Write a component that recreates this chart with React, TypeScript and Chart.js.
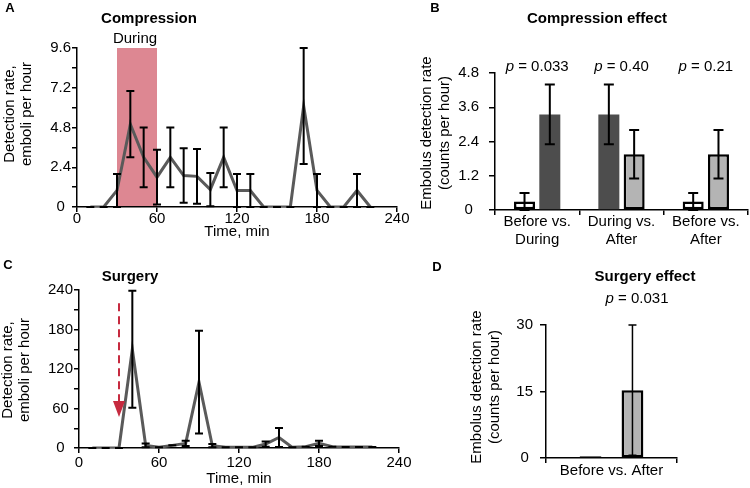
import React, { useEffect, useRef } from "react";
import { Chart, registerables } from "chart.js";

Chart.register(...registerables);

const FONT = "'Liberation Sans', Arial, Helvetica, sans-serif";
const INK = "#000000";
const LINE_GREY = "#5a5a5a";

// ---------- Panel A / C : time courses ----------
const TIME_MIN = [10, 20, 30, 40, 50, 60, 70, 80, 90, 100, 110, 120, 130, 140, 150, 160, 170, 180, 190, 200, 210, 220];
const TIME_TICKS = [0, 60, 120, 180, 240];

const A_MEAN = [0, 0, 1.0, 5.0, 3.0, 1.8, 3.0, 1.9, 1.85, 1.05, 3.0, 1.0, 1.0, 0, 0, 0, 6.1, 1.0, 0, 0, 1.0, 0];
const A_ERR = [0, 0, 1.0, 2.0, 1.8, 1.65, 1.8, 1.65, 1.65, 1.0, 1.8, 1.0, 1.0, 0, 0, 0, 3.5, 1.0, 0, 0, 1.0, 0];
const A_Y_TICKS = [0, 2.4, 4.8, 7.2, 9.6];
const A_DURING = [30, 60];

const C_MEAN = [0, 0, 0, 150, 4, 1, 4, 7, 100, 3.5, 1, 1, 1, 6, 16, 1, 2, 7, 2, 1.5, 1.5, 1.5];
const C_ERR = [0, 0, 0, 89, 3, 0, 0, 4, 78, 2.5, 0, 0, 0, 4, 14.5, 0, 0, 4, 0, 0, 0, 0];
const C_Y_TICKS = [0, 60, 120, 180, 240];
const C_ARROW_TIME = 30;
const C_ARROW_FROM = 220;
const C_ARROW_TO = 47;

// ---------- Panel B : compression effect ----------
const B_CATS = [["Before vs.", "During"], ["During vs.", "After"], ["Before vs.", "After"]];
const B_P = ["0.033", "0.40", "0.21"];
const B_LEFT = [0.3, 3.35, 0.3];
const B_LEFT_ERR = [0.3, 1.05, 0.3];
const B_LEFT_KIND = ["before", "during", "before"];
const B_RIGHT = [3.35, 1.95, 1.95];
const B_RIGHT_ERR = [1.05, 0.85, 0.85];
const B_RIGHT_KIND = ["during", "after", "after"];
const B_Y_TICKS = [0, 1.2, 2.4, 3.6, 4.8];

// ---------- Panel D : surgery effect ----------
const D_CATS = ["Before vs. After"];
const D_P = "0.031";
const D_BEFORE = [0.4];
const D_AFTER = [15.3];
const D_AFTER_ERR = [14.7];
const D_Y_TICKS = [0, 15, 30];

const KIND_FILL: Record<string, string> = { before: "#ffffff", during: "#4d4d4d", after: "#b4b4b4" };
const KIND_BORDER: Record<string, number> = { before: 2.5, during: 0, after: 2.5 };

type Part = { t: string; italic?: boolean; bold?: boolean };
type TextItem = {
  parts: Part[];
  x: number | ((c: any) => number);
  y: number;
  size: number;
  rotate?: boolean;
};

function textPlugin(items: TextItem[]) {
  return {
    id: "panelTexts",
    afterDraw(chart: any) {
      const ctx = chart.ctx;
      ctx.save();
      ctx.fillStyle = INK;
      ctx.textBaseline = "middle";
      ctx.textAlign = "left";
      for (const it of items) {
        const x = typeof it.x === "function" ? it.x(chart) : it.x;
        const fontOf = (p: Part) => `${p.italic ? "italic " : ""}${p.bold ? "bold " : ""}${it.size}px ${FONT}`;
        let total = 0;
        for (const p of it.parts) {
          ctx.font = fontOf(p);
          total += ctx.measureText(p.t).width;
        }
        ctx.save();
        ctx.translate(x, it.y);
        if (it.rotate) ctx.rotate(-Math.PI / 2);
        let cx = -total / 2;
        for (const p of it.parts) {
          ctx.font = fontOf(p);
          ctx.fillText(p.t, cx, 0);
          cx += ctx.measureText(p.t).width;
        }
        ctx.restore();
      }
      ctx.restore();
    },
  };
}

function errorBarPlugin(id: string, datasetIndex: number, means: number[], errs: number[], capHalf: number, width: number) {
  return {
    id,
    afterDatasetsDraw(chart: any) {
      const meta = chart.getDatasetMeta(datasetIndex);
      const ys = chart.scales.y;
      const ctx = chart.ctx;
      ctx.save();
      ctx.strokeStyle = "#000";
      ctx.lineWidth = width;
      meta.data.forEach((el: any, i: number) => {
        const e = errs[i];
        if (e == null) return;
        const x = el.x;
        const top = ys.getPixelForValue(means[i] + e);
        const bot = ys.getPixelForValue(Math.max(0, means[i] - e));
        ctx.beginPath();
        if (e > 0) {
          ctx.moveTo(x, top);
          ctx.lineTo(x, bot);
        }
        ctx.moveTo(x - capHalf, top);
        ctx.lineTo(x + capHalf, top);
        ctx.moveTo(x - capHalf, bot);
        ctx.lineTo(x + capHalf, bot);
        ctx.stroke();
      });
      ctx.restore();
    },
  };
}

const bandPlugin = {
  id: "duringBand",
  beforeDatasetsDraw(chart: any) {
    const { x, y } = chart.scales;
    const ctx = chart.ctx;
    const l = x.getPixelForValue(A_DURING[0]);
    const r = x.getPixelForValue(A_DURING[1]);
    const t = y.getPixelForValue(y.max);
    const b = y.getPixelForValue(0) - 1;
    ctx.save();
    ctx.fillStyle = "#dd8792";
    ctx.fillRect(l, t, r - l, b - t);
    ctx.restore();
  },
};

const arrowPlugin = {
  id: "surgeryArrow",
  afterDatasetsDraw(chart: any) {
    const { x, y } = chart.scales;
    const ctx = chart.ctx;
    const px = x.getPixelForValue(C_ARROW_TIME);
    const y0 = y.getPixelForValue(C_ARROW_FROM);
    const y1 = y.getPixelForValue(C_ARROW_TO);
    const head = 16;
    const hw = 6;
    ctx.save();
    ctx.strokeStyle = "#c62a3f";
    ctx.fillStyle = "#c62a3f";
    ctx.lineWidth = 2;
    ctx.setLineDash([8, 5]);
    ctx.beginPath();
    ctx.moveTo(px, y0);
    ctx.lineTo(px, y1 - head);
    ctx.stroke();
    ctx.setLineDash([]);
    ctx.beginPath();
    ctx.moveTo(px - hw, y1 - head);
    ctx.lineTo(px + hw, y1 - head);
    ctx.lineTo(px, y1);
    ctx.closePath();
    ctx.fill();
    ctx.restore();
  },
};

const axisGrid = { drawOnChartArea: false, drawTicks: true, tickLength: 5, color: "#000", lineWidth: 1.5 };
const axisBorder = { display: true, color: "#000", width: 1.5 };
const tickFont = { family: FONT, size: 15, lineHeight: 1.15 };

function withMinor(major: number[]) {
  const out: { value: number }[] = [];
  major.forEach((v, i) => {
    out.push({ value: v });
    if (i < major.length - 1) out.push({ value: (v + major[i + 1]) / 2 });
  });
  return out;
}

function baseOptions(padding: any) {
  return {
    responsive: false,
    animation: false as const,
    devicePixelRatio: 1,
    layout: { padding },
    plugins: { legend: { display: false }, tooltip: { enabled: false }, title: { display: false } },
  };
}

function timeChart(
  canvas: HTMLCanvasElement,
  means: number[],
  errs: number[],
  yTicks: number[],
  fmt: (v: number) => string,
  geom: { top: number; right: number; yWidth: number; xHeight: number; tickPad: number; titlePad: number; yTickPad: number },
  extra: any[]
) {
  return new Chart(canvas, {
    type: "line",
    data: {
      datasets: [
        {
          data: TIME_MIN.map((t, i) => ({ x: t, y: means[i] })),
          borderColor: LINE_GREY,
          borderWidth: 3,
          pointRadius: 0,
          tension: 0,
          fill: false,
        },
      ],
    },
    options: {
      ...baseOptions({ left: 0, top: geom.top, right: geom.right, bottom: 0 }),
      scales: {
        x: {
          type: "linear",
          min: TIME_TICKS[0],
          max: TIME_TICKS[TIME_TICKS.length - 1],
          afterBuildTicks: (s: any) => {
            s.ticks = TIME_TICKS.map((v) => ({ value: v }));
          },
          ticks: { font: tickFont, color: INK, padding: geom.tickPad, maxRotation: 0, autoSkip: false, callback: (v: any) => String(v) },
          grid: axisGrid,
          border: axisBorder,
          title: {
            display: true,
            text: "Time, min",
            font: { family: FONT, size: 15, lineHeight: 1.15 },
            color: INK,
            padding: { top: 0, bottom: geom.titlePad },
          },
          afterFit: (s: any) => {
            s.height = geom.xHeight;
            s.paddingLeft = 0;
            s.paddingRight = 0;
          },
        },
        y: {
          type: "linear",
          min: yTicks[0],
          max: yTicks[yTicks.length - 1],
          afterBuildTicks: (s: any) => {
            s.ticks = withMinor(yTicks);
          },
          ticks: {
            font: tickFont,
            color: INK,
            padding: geom.yTickPad,
            autoSkip: false,
            crossAlign: "center",
            callback: (v: any) => (yTicks.includes(v) ? fmt(v) : ""),
          },
          grid: axisGrid,
          border: axisBorder,
          afterFit: (s: any) => {
            s.width = geom.yWidth;
          },
        },
      },
    } as any,
    plugins: extra,
  });
}

function makeA(canvas: HTMLCanvasElement) {
  return timeChart(
    canvas,
    A_MEAN,
    A_ERR,
    A_Y_TICKS,
    (v) => (v === 0 ? "0" : v.toFixed(1)),
    { top: 48, right: 18, yWidth: 77, xHeight: 33, tickPad: -2, titlePad: 0, yTickPad: 1 },
    [
      bandPlugin,
      errorBarPlugin("ebA", 0, A_MEAN, A_ERR, 4, 2),
      textPlugin([
        { parts: [{ t: "A", bold: true }], x: 10, y: 8, size: 13 },
        { parts: [{ t: "Compression", bold: true }], x: 149, y: 19, size: 15 },
        { parts: [{ t: "During" }], x: 135, y: 39, size: 15 },
        { parts: [{ t: "Detection rate," }], x: 10, y: 114, size: 15, rotate: true },
        { parts: [{ t: "emboli per hour" }], x: 27, y: 114, size: 15, rotate: true },
      ]),
    ]
  );
}

function makeC(canvas: HTMLCanvasElement) {
  return timeChart(
    canvas,
    C_MEAN,
    C_ERR,
    C_Y_TICKS,
    (v) => String(v),
    { top: 50, right: 16, yWidth: 79, xHeight: 40, tickPad: 1, titlePad: 1, yTickPad: 1 },
    [
      errorBarPlugin("ebC", 0, C_MEAN, C_ERR, 4, 2),
      arrowPlugin,
      textPlugin([
        { parts: [{ t: "C", bold: true }], x: 8, y: 25, size: 13 },
        { parts: [{ t: "Surgery", bold: true }], x: 130, y: 37, size: 15 },
        { parts: [{ t: "Detection rate," }], x: 8, y: 130, size: 15, rotate: true },
        { parts: [{ t: "emboli per hour" }], x: 25, y: 130, size: 15, rotate: true },
      ]),
    ]
  );
}

function makeB(canvas: HTMLCanvasElement) {
  return new Chart(canvas, {
    type: "bar",
    data: {
      labels: B_CATS as any,
      datasets: [
        {
          data: B_LEFT,
          backgroundColor: B_LEFT_KIND.map((k) => KIND_FILL[k]),
          borderColor: "#000",
          borderWidth: B_LEFT_KIND.map((k) => KIND_BORDER[k]),
          borderSkipped: false,
          categoryPercentage: 0.6,
          barPercentage: 0.83,
        },
        {
          data: B_RIGHT,
          backgroundColor: B_RIGHT_KIND.map((k) => KIND_FILL[k]),
          borderColor: "#000",
          borderWidth: B_RIGHT_KIND.map((k) => KIND_BORDER[k]),
          borderSkipped: false,
          categoryPercentage: 0.6,
          barPercentage: 0.83,
        },
      ],
    },
    options: {
      ...baseOptions({ left: 0, top: 73, right: 2, bottom: 0 }),
      scales: {
        x: {
          grid: { ...axisGrid, offset: true },
          border: axisBorder,
          ticks: { font: { family: FONT, size: 15, lineHeight: 1.25 }, color: INK, padding: -3, maxRotation: 0, autoSkip: false },
          afterFit: (s: any) => {
            s.height = 45;
            s.paddingLeft = 0;
            s.paddingRight = 0;
          },
        },
        y: {
          min: B_Y_TICKS[0],
          max: B_Y_TICKS[B_Y_TICKS.length - 1],
          afterBuildTicks: (s: any) => {
            s.ticks = B_Y_TICKS.map((v) => ({ value: v }));
          },
          ticks: {
            font: tickFont,
            color: INK,
            padding: 10,
            crossAlign: "center",
            autoSkip: false,
            callback: (v: any) => (v === 0 ? "0" : Number(v).toFixed(1)),
          },
          grid: { ...axisGrid, tickLength: 6 },
          border: axisBorder,
          afterFit: (s: any) => {
            s.width = 95;
          },
        },
      },
    } as any,
    plugins: [
      errorBarPlugin("ebB0", 0, B_LEFT, B_LEFT_ERR, 5, 2),
      errorBarPlugin("ebB1", 1, B_RIGHT, B_RIGHT_ERR, 5, 2),
      textPlugin([
        { parts: [{ t: "B", bold: true }], x: 35, y: 8, size: 13 },
        { parts: [{ t: "Compression effect", bold: true }], x: 197, y: 19, size: 15 },
        ...B_P.map((p, i) => ({
          parts: [{ t: "p", italic: true }, { t: " = " + p }],
          x: (c: any) => c.scales.x.getPixelForValue(i),
          y: 67,
          size: 15,
        })),
        { parts: [{ t: "Embolus detection rate" }], x: 27, y: 133, size: 15, rotate: true },
        { parts: [{ t: "(counts per hour)" }], x: 45, y: 133, size: 15, rotate: true },
      ]),
    ],
  });
}

function makeD(canvas: HTMLCanvasElement) {
  return new Chart(canvas, {
    type: "bar",
    data: {
      labels: D_CATS,
      datasets: [
        {
          data: D_BEFORE,
          backgroundColor: KIND_FILL.before,
          borderColor: "#000",
          borderWidth: 2.5,
          borderSkipped: false,
          categoryPercentage: 0.64,
          barPercentage: 0.52,
        },
        {
          data: D_AFTER,
          backgroundColor: KIND_FILL.after,
          borderColor: "#000",
          borderWidth: 2.5,
          borderSkipped: false,
          categoryPercentage: 0.64,
          barPercentage: 0.52,
        },
      ],
    },
    options: {
      ...baseOptions({ left: 0, top: 85, right: 73, bottom: 0 }),
      scales: {
        x: {
          grid: { ...axisGrid, offset: true },
          border: axisBorder,
          ticks: { font: { family: FONT, size: 15, lineHeight: 1.25 }, color: INK, padding: -2, maxRotation: 0, autoSkip: false },
          afterFit: (s: any) => {
            s.height = 30;
            s.paddingLeft = 0;
            s.paddingRight = 0;
          },
        },
        y: {
          min: D_Y_TICKS[0],
          max: D_Y_TICKS[D_Y_TICKS.length - 1],
          afterBuildTicks: (s: any) => {
            s.ticks = D_Y_TICKS.map((v) => ({ value: v }));
          },
          ticks: { font: tickFont, color: INK, padding: 7, crossAlign: "center", autoSkip: false, callback: (v: any) => String(v) },
          grid: { ...axisGrid, tickLength: 6 },
          border: axisBorder,
          afterFit: (s: any) => {
            s.width = 146;
          },
        },
      },
    } as any,
    plugins: [
      errorBarPlugin("ebD", 1, D_AFTER, D_AFTER_ERR, 4, 1.5),
      textPlugin([
        { parts: [{ t: "D", bold: true }], x: 37, y: 27, size: 13 },
        { parts: [{ t: "Surgery effect", bold: true }], x: 245, y: 37, size: 15 },
        { parts: [{ t: "p", italic: true }, { t: " = " + D_P }], x: 237, y: 59, size: 15 },
        { parts: [{ t: "Embolus detection rate" }], x: 77, y: 147, size: 15, rotate: true },
        { parts: [{ t: "(counts per hour)" }], x: 95, y: 147, size: 15, rotate: true },
      ]),
    ],
  });
}

function ChartBox(props: { left: number; top: number; width: number; height: number; make: (c: HTMLCanvasElement) => Chart }) {
  const ref = useRef<HTMLCanvasElement>(null);
  useEffect(() => {
    const chart = props.make(ref.current as HTMLCanvasElement);
    return () => chart.destroy();
  }, []);
  return (
    <canvas
      ref={ref}
      width={props.width}
      height={props.height}
      style={{ position: "absolute", left: props.left, top: props.top, width: props.width, height: props.height }}
    />
  );
}

export default function App() {
  return (
    <div style={{ position: "absolute", left: 0, top: 0, width: 750, height: 488, background: "#ffffff", overflow: "hidden" }}>
      <ChartBox left={0} top={0} width={415} height={240} make={makeA} />
      <ChartBox left={0} top={240} width={415} height={248} make={makeC} />
      <ChartBox left={400} top={0} width={350} height={255} make={makeB} />
      <ChartBox left={400} top={240} width={350} height={248} make={makeD} />
    </div>
  );
}
